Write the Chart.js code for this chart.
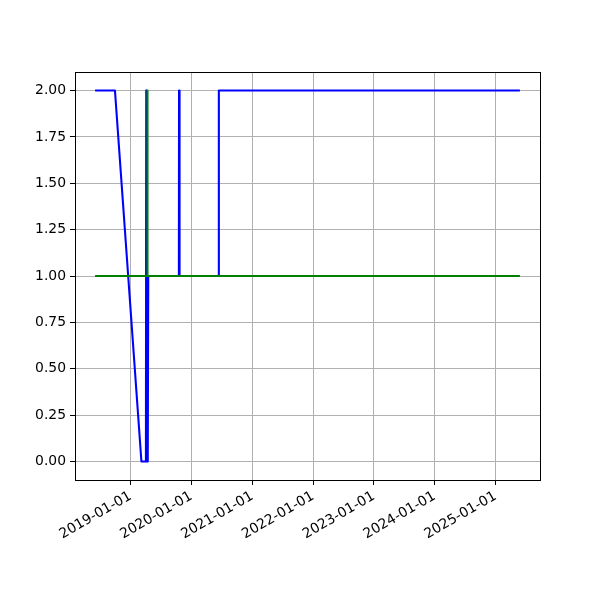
<!DOCTYPE html>
<html>
<head>
<meta charset="utf-8">
<script src="https://cdn.jsdelivr.net/npm/chart.js@4/dist/chart.umd.min.js"></script>
<style>
  html, body { margin: 0; padding: 0; background: #fff; }
</style>
</head>
<body>
<canvas id="graph" width="600" height="600"></canvas>
<script>
// Serie bleue (dates + valeurs)
const datesBleu = [
  "2018-06-08", "2018-09-29", "2019-03-07", "2019-04-03", "2019-04-05",
  "2019-04-06", "2019-04-11", "2019-04-14", "2019-04-17",
  "2019-10-18", "2019-10-19", "2019-10-21", "2019-10-22", "2019-10-23",
  "2020-06-13", "2020-06-14", "2025-05-21"
];
const valeursBleu = [2, 2, 0, 0, 2, 0, 1, 0, 1, 1, 2, 1, 2, 1, 1, 2, 2];

// Serie verte
const datesVert = ["2018-06-08", "2019-04-11", "2019-04-12", "2019-04-13", "2025-05-21"];
const valeursVert = [1, 1, 2, 1, 1];

// Graduations
const xTickLabels = ["2019-01-01", "2020-01-01", "2021-01-01", "2022-01-01", "2023-01-01", "2024-01-01", "2025-01-01"];
const yTicks = [0, 0.25, 0.5, 0.75, 1, 1.25, 1.5, 1.75, 2];

function versPoints(dates, valeurs) {
  return dates.map((d, i) => ({ x: Date.parse(d + "T00:00:00Z"), y: valeurs[i] }));
}

const ptsBleu = versPoints(datesBleu, valeursBleu);
const ptsVert = versPoints(datesVert, valeursVert);

// Marges de 5% comme matplotlib
const tousX = ptsBleu.concat(ptsVert).map(p => p.x);
const xMin = Math.min(...tousX), xMax = Math.max(...tousX);
const margeX = (xMax - xMin) * 0.05;

const police = { family: "DejaVu Sans", size: 13.9 };

// Style commun des courbes (bouts carres et jointures rondes, comme matplotlib)
const styleCourbe = { borderWidth: 2.08, pointRadius: 0, borderCapStyle: "square", borderJoinStyle: "round" };

// Cadre noir autour de la zone de trace
const cadre = {
  id: "cadre",
  afterDraw(chart) {
    const a = chart.chartArea, ctx = chart.ctx;
    ctx.save();
    ctx.strokeStyle = "#000";
    ctx.lineWidth = 1;
    ctx.strokeRect(Math.round(a.left) + 0.5, Math.round(a.top) + 0.5,
      Math.round(a.right - a.left), Math.round(a.bottom - a.top));
    ctx.restore();
  }
};

new Chart(document.getElementById("graph"), {
  type: "line",
  data: {
    datasets: [
      { ...styleCourbe, data: ptsVert, borderColor: "#008000", order: 0 },
      { ...styleCourbe, data: ptsBleu, borderColor: "#0000ff", order: 1 },
    ],
  },
  options: {
    responsive: false,
    animation: false,
    devicePixelRatio: 1,
    layout: { padding: { left: 0, right: 60, top: 72, bottom: 0 } },
    plugins: { legend: { display: false }, tooltip: { enabled: false } },
    scales: {
      x: {
        type: "linear",
        min: xMin - margeX,
        max: xMax + margeX,
        afterBuildTicks: s => { s.ticks = xTickLabels.map(t => ({ value: Date.parse(t + "T00:00:00Z") })); },
        afterFit: s => { s.height = 120; },
        grid: { color: "#b0b0b0", lineWidth: 1, tickColor: "#000", tickLength: 5 },
        border: { color: "#000" },
        ticks: {
          color: "#000", font: police, padding: 3, minRotation: 30, maxRotation: 30, autoSkip: false,
          callback: v => new Date(v).toISOString().slice(0, 10),
        },
      },
      y: {
        min: -0.1,
        max: 2.1,
        afterBuildTicks: s => { s.ticks = yTicks.map(v => ({ value: v })); },
        afterFit: s => { s.width = 75; },
        grid: { color: "#b0b0b0", lineWidth: 1, tickColor: "#000", tickLength: 5 },
        border: { color: "#000" },
        ticks: { color: "#000", font: police, padding: 4, callback: v => v.toFixed(2) },
      },
    },
  },
  plugins: [cadre],
});
</script>
</body>
</html>
